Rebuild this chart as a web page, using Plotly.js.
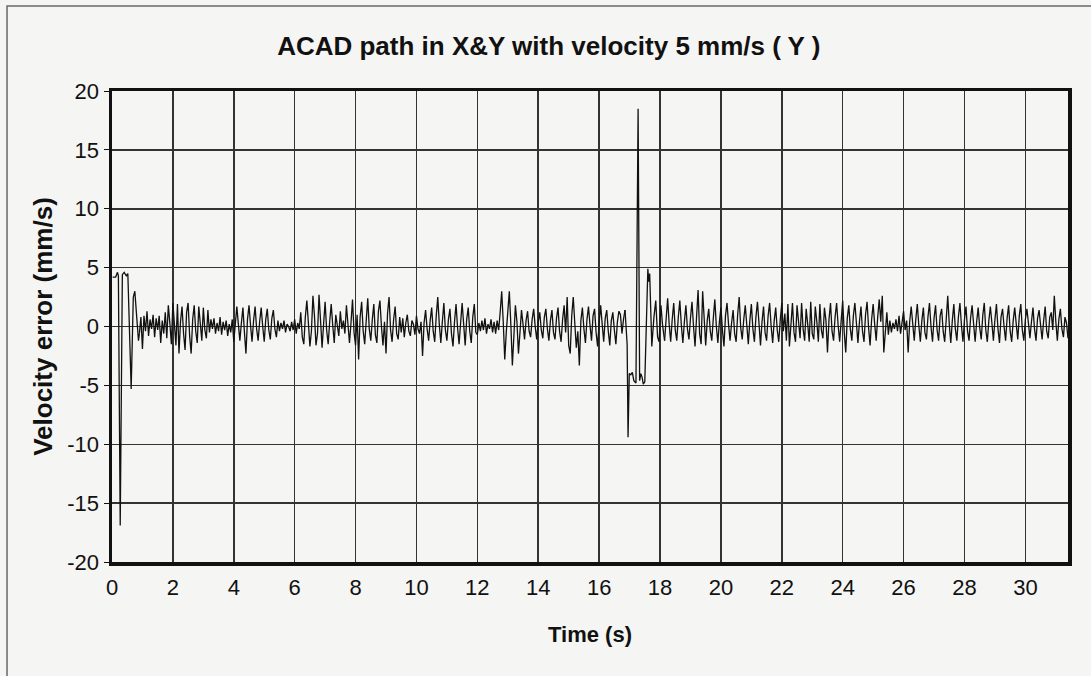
<!DOCTYPE html>
<html>
<head>
<meta charset="utf-8">
<script src="https://cdn.plot.ly/plotly-3.0.1.min.js"></script>
<style>
  html, body { margin: 0; padding: 0; background: #f5f5f3; }
  #chart { width: 1091px; height: 676px; }
</style>
</head>
<body>
<div id="chart"></div>
<script>
// ---- Data ----
// Start-up transient (time in s, velocity error in mm/s)
const startTime = [0.02, 0.12, 0.18, 0.21, 0.27, 0.34, 0.40, 0.47, 0.52, 0.58, 0.63, 0.70, 0.75, 0.82, 0.87, 0.90];
const startVel  = [4.2, 4.2, 4.6, 4.3, -16.9, 4.4, 4.6, 4.3, 4.5, -1.0, -5.3, 2.5, 3.0, 0.5, -1.2, -0.6];

// Steady tracking error, sampled every 0.05 s from 0.90 s to 16.85 s
const sampleStep = 0.05;
const steadyStartA = 0.90;
const steadyVelA = [
  -0.6, 0.8, -1.9, 0.9, -0.4, 1.3, -0.8, 0.6, -0.2, 1.0, -0.9, 0.7, -0.3, 0.9, -1.4, 0.5, -0.6, 1.2,
  -1.0, 1.8, 0.3, -1.5, 2.0, -0.2, -1.6, 1.9, -2.3, 0.4, 1.7, -0.6, -2.0, 1.2, 2.0, -0.8, -2.3, 0.6, 1.8, -0.4, -1.4, 1.7, 0.2, -1.2, 1.6, -0.3, -1.0, 1.4,
  -0.5, 0.6, -0.2, 0.7, -0.6, 0.3, -0.4, 0.8, -0.7, 0.4, -0.3, 0.5, -0.8, 0.2, -0.5, 0.6,
  -1.3, 0.4, 1.7, 0.2, -1.2, 0.3, 1.6, -0.5, -2.3, 0.6, 1.8, 0.1, -1.3, 0.5, 1.7, -0.2, -1.2, 0.4, 1.6, 0.0, -1.3, 0.6, 1.5, -0.3, -1.1, 0.7, 1.4, -0.2, -0.9, 0.5,
  -0.4, 0.3, -0.2, 0.5, -0.5, 0.2, 0.0, -0.4, 0.4, -0.3, 0.6, -0.6, 0.3, -0.2,
  1.2, -0.9, -1.5, 0.8, 2.2, 0.3, -1.7, -0.4, 2.6, 0.9, -1.6, -0.6, 2.7, 0.5, -1.8, 0.2, 2.1, -0.3, -1.5, 0.4, 1.9, 0.1, -1.4, 1.0, 0.2, -0.8,
  1.3, -0.2, 0.5, -0.6, 1.8, 0.1, -1.4, 0.3, 2.3, -0.5, -1.6, 1.0, -2.8, 0.8, 2.1, -0.4, -1.5, 0.5, 2.4, -0.2, -1.2, 0.6, 1.9, -0.7, -1.4, 1.3, 2.2, 0.0, -1.6, 0.4, -2.3, 1.1, 2.5, -0.3, -1.3, 0.6, 1.7, -0.6, -1.1, 0.8,
  -0.5, 0.7, -0.9, 0.3, 1.0, -0.4, -0.8, 0.5, 0.2, -0.7, 0.9, -0.2,
  -0.6, 0.4, -2.5, 0.3, 1.4, -0.2, -1.2, 0.5, 1.6, -0.4, -1.3, 0.9, 2.5, 0.2, -1.4, 0.4, 2.0, -0.3, -1.2, 0.6, 1.5, -0.6,
  -1.7, 0.4, 1.9, -0.1, -1.5, 0.3, 2.0, 0.2, -1.6, 0.6, 1.6, -0.4, -1.4, 0.8, 1.9, -0.5,
  -0.7, 0.3, -0.4, 0.5, -0.3, 0.7, -0.6, 0.2, -0.2, 0.6, -0.5, 0.4, -0.6, 0.5,
  -0.3, 1.2, 3.0, 0.4, -2.8, -0.5, 1.5, 3.0, 0.2, -3.3, -0.8, 1.8, 0.4, -2.3, -0.5, 1.4,
  0.2, -1.1, 0.5, 1.3, -0.4, -0.9, 0.6, 1.5, 0.0, -1.1, 0.4, 1.2, -0.3, -1.0, 0.8, 1.5, -0.2, -1.2, 0.5, 1.4, -0.5, -1.1, 0.7, 1.6,
  -0.4, -1.3, 0.6, 1.8, -0.5, 2.5, -1.6, -2.3, 0.9, 2.5, 0.3, -1.8, -0.4, -3.3,
  0.5, 1.6, -0.2, -1.4, 0.6, 1.7, 0.1, -1.2, 0.9, 1.5, -0.5, -1.7, 0.3, 1.8, 0.2, -1.3, 0.7, 1.4, -0.4, -1.6, 0.5, 1.2, -0.3, -1.5, 0.4, 1.3, 1.0, -0.6, 0.6, 1.4
];

// Disturbance around 17-18 s (time in s, velocity error in mm/s)
const spikeTime = [16.85, 16.92, 16.95, 16.99, 17.04, 17.09, 17.14, 17.21, 17.28, 17.33, 17.37, 17.41, 17.45, 17.50, 17.60, 17.63, 17.66, 17.73, 17.80, 17.86, 17.92, 17.97, 18.03, 18.08, 18.15];
const spikeVel  = [1.4, -1.5, -9.4, -4.0, -4.1, -3.9, -4.6, -4.8, 18.5, -4.6, -4.0, -4.3, -4.9, -4.7, 4.9, 3.8, 4.5, -1.7, 0.8, 2.2, -0.9, -1.3, 1.8, 0.2, -1.2];

// Steady tracking error, sampled every 0.05 s from 18.15 s to 31.40 s
const steadyStartB = 18.15;
const steadyVelB = [
  -1.2, 0.5, 2.4, 0.2, -1.3, 0.6, 2.0, -0.3, -1.2, 0.8, 2.2, 0.1, -1.4, 0.4, 1.8, -0.2, -1.1, 0.7, 2.1,
  0.0, -1.7, 0.8, 3.1, -0.6, -1.5, 3.0, 0.2,
  -1.6, 0.5, 1.5, -0.4, -1.2, 0.7, 2.3, 0.0, -1.4, 0.4, 1.6, -0.3, -1.7, 0.9, 2.0, 0.2, -1.2, 0.3, 1.4, -0.6, -1.3, 1.0, 2.5, -0.1, -1.1, 0.6, 1.8, 0.1, -1.5, 0.5, 1.9, -0.2, -1.3, 0.8, 2.1, 0.3, -1.6, 0.4, 1.7, -0.5, -1.2, 0.9, 2.0, 0.0, -1.4, 0.5, 1.6, -0.3,
  -1.3, 0.6, 2.0, -0.4, 1.1, -1.2, 1.9, -1.7, 0.7, 2.0, -0.5, -1.3, 1.8, 0.3, -1.0, 2.0, -0.2, -1.2, 1.5, 0.2, -1.3, 2.1, -0.6, -1.1, 1.7, 0.4, -1.3, 1.9, -0.3, -1.0, 1.6, 0.5, -2.2, 0.6, 2.0, -0.4,
  -1.2, 0.8, 2.0, 0.1, -1.3, 0.5, 2.2, -0.5, -2.2, 0.7, 1.8, -0.2, -1.2, 0.9, 2.0, 0.3, -1.4, 0.4, 1.7, -0.4, -1.3, 1.0, 2.1, -0.1, -1.6, 0.6, 1.9, 0.2, -1.2, 0.8, 2.3, 0.4, 2.6, -2.2, -0.4, 1.2, -0.7, 0.5,
  -0.5, 0.3, -0.2, 0.6, -0.4, 0.9, -0.6, 0.4, 1.3, -0.3, 0.5, -2.2,
  0.4, 1.7, -0.2, -1.2, 0.6, 1.9, 0.1, -1.3, 0.5, 1.6, -0.5, -1.1, 0.8, 2.0, 0.0, -1.3, 0.7, 1.8, -0.3, -1.2, 0.9, 1.5, -0.4, -1.3, 0.6, 2.6, 0.2, -1.4, 0.5, 1.9, -0.2, -1.2, 0.8, 2.0, 0.1, -1.3, 0.6, 1.7,
  -0.4, -1.2, 0.7, 1.8, 0.2, -1.3, 0.4, 1.6, -0.1, -1.1, 0.9, 2.0, -0.3, -1.3, 0.5, 1.7, 0.3, -1.2, 0.6, 1.9, -0.2, -1.4, 0.8, 1.5, 0.0, -1.2, 0.7, 1.8, -0.4, -1.3, 0.5, 1.6, 0.2, -1.1, 0.9, 1.9, -0.3, -1.2,
  0.6, 1.5, 0.3, -1.0, 0.4, 1.6, -0.2, -1.2, 0.7, 1.4, 0.1, -1.1, 0.5, 1.7, -0.4, -1.0, 0.8, 1.2, -0.3, 2.6, 0.4, -1.2, 0.6, 1.5, -0.2, -0.9, 0.8, 0.3, -1.0
];

// Axis ticks
const xTicks = [0, 2, 4, 6, 8, 10, 12, 14, 16, 18, 20, 22, 24, 26, 28, 30];
const yTicks = [-20, -15, -10, -5, 0, 5, 10, 15, 20];

const lineStyle = { color: '#111111', width: 1.3 };
const FONT = '"Liberation Sans", Arial, sans-serif';
const INK = '#111111';

const traces = [
  { type: 'scatter', mode: 'lines', x: startTime, y: startVel, line: lineStyle, showlegend: false, hoverinfo: 'skip' },
  { type: 'scatter', mode: 'lines', x0: steadyStartA, dx: sampleStep, y: steadyVelA, line: lineStyle, showlegend: false, hoverinfo: 'skip' },
  { type: 'scatter', mode: 'lines', x: spikeTime, y: spikeVel, line: lineStyle, showlegend: false, hoverinfo: 'skip' },
  { type: 'scatter', mode: 'lines', x0: steadyStartB, dx: sampleStep, y: steadyVelB, line: lineStyle, showlegend: false, hoverinfo: 'skip' }
];

const layout = {
  width: 1091,
  height: 676,
  margin: { l: 112, r: 23, t: 91, b: 114 },
  paper_bgcolor: '#f5f5f3',
  plot_bgcolor: '#f5f5f3',
  font: { family: FONT, color: INK, size: 21 },
  title: {
    text: '<b>ACAD path in X&amp;Y with velocity 5 mm/s ( Y )</b>',
    font: { family: FONT, size: 26, color: INK },
    xref: 'container', x: 0.503, xanchor: 'center',
    yref: 'container', y: 0.932, yanchor: 'middle'
  },
  xaxis: {
    range: [0, 31.4],
    tickmode: 'array', tickvals: xTicks, ticktext: xTicks.map(String),
    showgrid: true, gridcolor: '#333333', gridwidth: 1.5,
    zeroline: false,
    showline: true, mirror: true, linecolor: INK, linewidth: 3.5,
    ticks: '',
    ticklabelstandoff: 3,
    tickfont: { family: FONT, size: 22, color: INK },
    title: { text: '<b>Time (s)</b>', font: { family: FONT, size: 22, color: INK }, standoff: 28 }
  },
  yaxis: {
    range: [-20, 20],
    tickmode: 'array', tickvals: yTicks, ticktext: yTicks.map(String),
    showgrid: true, gridcolor: '#333333', gridwidth: 1.5,
    zeroline: false,
    showline: true, mirror: true, linecolor: INK, linewidth: 3.5,
    ticks: 'outside', ticklen: 5, tickwidth: 1, tickcolor: INK,
    tickfont: { family: FONT, size: 22, color: INK },
    title: { text: '<b>Velocity error (mm/s)</b>', font: { family: FONT, size: 26, color: INK }, standoff: 8 }
  },
  shapes: [
    { type: 'rect', xref: 'paper', yref: 'paper',
      x0: -0.1098, x1: 1.2, y0: -0.4, y1: 1.1805,
      line: { color: '#6a6a6a', width: 1.5 }, fillcolor: 'rgba(0,0,0,0)', layer: 'below' }
  ]
};

Plotly.newPlot('chart', traces, layout, { staticPlot: true, displayModeBar: false });
</script>
</body>
</html>
